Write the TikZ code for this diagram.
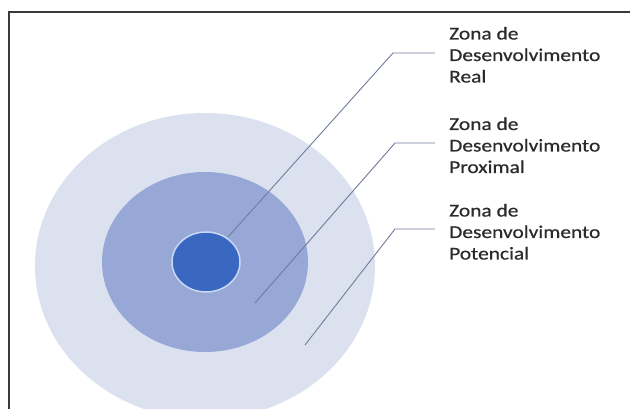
\documentclass[tikz,border=0pt]{standalone}
\usepackage{fontspec}
\setmainfont{Carlito}[FakeStretch=1.19,FakeBold=0.6]
\definecolor{outerc}{HTML}{DCE1F0}
\definecolor{midc}{HTML}{97A8D7}
\definecolor{innerc}{HTML}{3A67BF}
\definecolor{innerrim}{HTML}{C8D8F5}
\definecolor{leadc}{HTML}{6F7C9C}
\definecolor{framec}{HTML}{3A3A3A}
\definecolor{textc}{HTML}{2B2B2B}
\tikzset{
  leader/.style={draw=leadc, line width=0.9pt},
  zlabel/.style={anchor=base west, inner sep=0pt, text=textc,
    font=\fontsize{18}{21.5}\selectfont},
}
\newcommand{\zlines}[1]{\parbox[t]{7cm}{\raggedright\fontsize{18}{21.5}\selectfont #1}}
\begin{document}
\begin{tikzpicture}[x=1pt,y=-1pt]
\useasboundingbox (0,0) rectangle (630,409);
\fill[white] (0,0) rectangle (630,409);
% frame
\draw[framec, line width=2pt] (9,409) -- (9,12.5) -- (630,12.5);
% zones
\fill[outerc] (205,266) ellipse [x radius=170, y radius=153];
\fill[midc] (205,262) ellipse [x radius=103, y radius=90];
\filldraw[fill=innerc, draw=innerrim, line width=1.5pt] (206,262) ellipse [x radius=34, y radius=30];
% labels
\node[zlabel] (lr) at (449,39.5) {\zlines{Zona de\\Desenvolvimento\\Real}};
\node[zlabel] (lp) at (449,130) {\zlines{Zona de\\Desenvolvimento\\Proximal}};
\node[zlabel] (lt) at (449,216.5) {\zlines{Zona de\\Desenvolvimento\\Potencial}};
% leader points
\coordinate (cr) at (228,237);
\coordinate (kr) at (393,53);
\coordinate (cp) at (255,303);
\coordinate (kp) at (395,143);
\coordinate (ct) at (305,345);
\coordinate (kt) at (395,229);
\draw[leader] (cr) -- (kr) -- ([xshift=-14pt,yshift=-13.5pt]lr.base west);
\draw[leader] (cp) -- (kp) -- ([xshift=-14pt,yshift=-13pt]lp.base west);
\draw[leader] (ct) -- (kt) -- ([xshift=-14pt,yshift=-12.5pt]lt.base west);
\end{tikzpicture}
\end{document}
